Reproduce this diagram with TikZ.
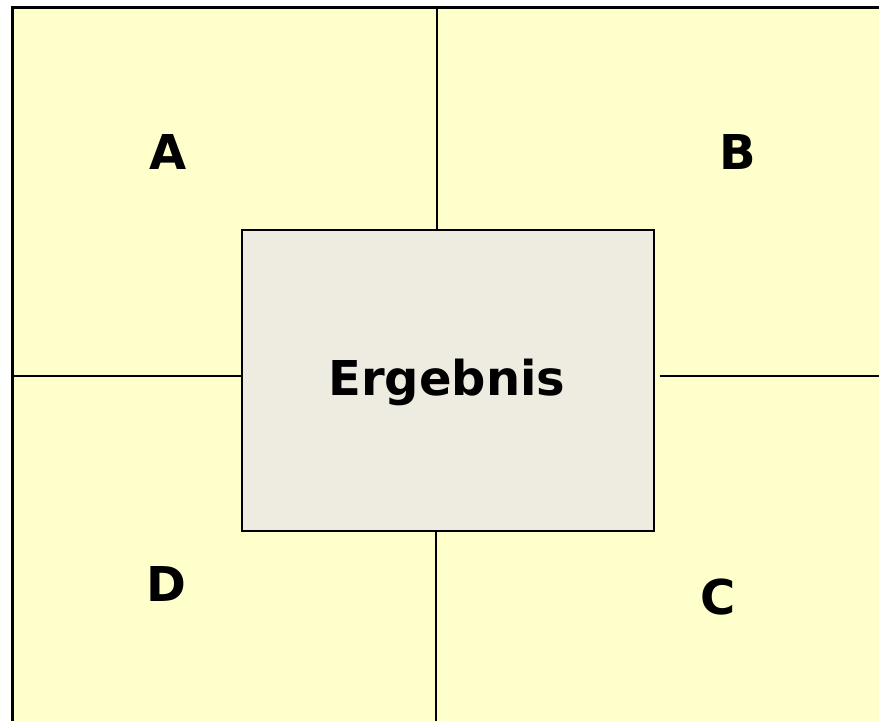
\documentclass[tikz,border=0pt]{standalone}
\usepackage{fontspec}
\setmainfont{DejaVu Sans}
\definecolor{paleyellow}{HTML}{FFFFCC}
\definecolor{boxgrey}{HTML}{EEEBE0}
\begin{document}
\begin{tikzpicture}[x=1pt,y=-1pt,
  lbl/.style={font=\fontsize{48}{56}\selectfont\bfseries, inner sep=0pt},
  sep/.style={line width=1.5pt, black},
  centre/.style={draw=black, line width=1.8pt, fill=boxgrey, minimum width=412pt, minimum height=301pt, inner sep=0pt, anchor=north west}]
\useasboundingbox (0,0) rectangle (879,721);
\fill[paleyellow] (12,7) rectangle (879,721);
\draw[line width=3pt] (12,721) -- (12,7) -- (879,7);
% dividers
\coordinate (t1) at (437,7);   \coordinate (t2) at (437,229);
\coordinate (l1) at (12,376);  \coordinate (l2) at (241,376);
\coordinate (r1) at (660,376); \coordinate (r2) at (879,376);
\coordinate (b1) at (436,530); \coordinate (b2) at (436,721);
\draw[sep] (t1) -- (t2);
\draw[sep] (l1) -- (l2);
\draw[sep] (r1) -- (r2);
\draw[sep] (b1) -- (b2);
\node[centre] (erg) at (241,229) {};
\node[lbl] (ergtext) at (447,382) {Ergebnis};
\node[lbl] (A) at (168,152) {A};
\node[lbl] (B) at (738,152) {B};
\node[lbl] (D) at (166,584) {D};
\node[lbl] (C) at (718,597) {C};
\end{tikzpicture}
\end{document}
